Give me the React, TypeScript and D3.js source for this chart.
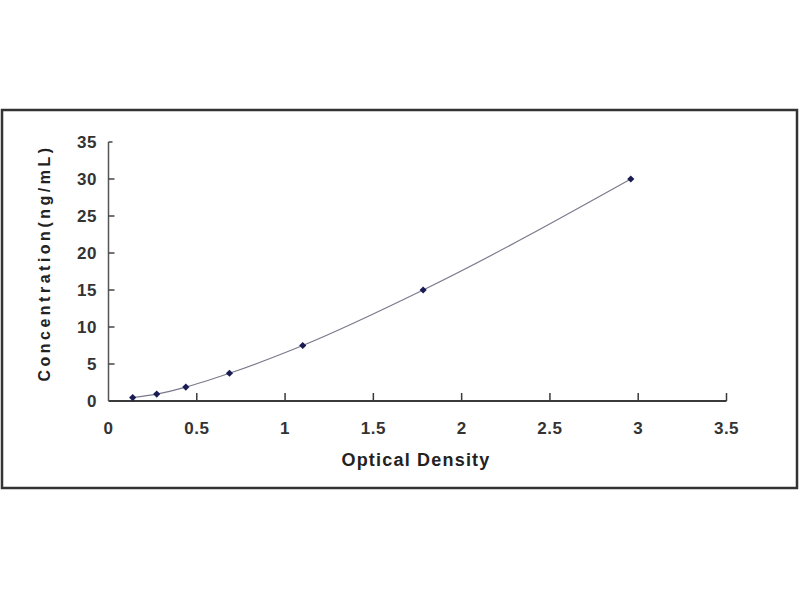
import { scaleLinear, line, curveMonotoneX, symbol, symbolSquare } from "d3";

const odValues = [0.137, 0.273, 0.438, 0.685, 1.1, 1.782, 2.958];
const concValues = [0.47, 0.94, 1.88, 3.75, 7.5, 15, 30];
const xTicks = [0, 0.5, 1, 1.5, 2, 2.5, 3, 3.5];
const yTicks = [0, 5, 10, 15, 20, 25, 30, 35];

const W = 800;
const H = 600;
const font = "'Liberation Sans', Arial, sans-serif";

export default function App() {
  const x = scaleLinear().domain([0, 3.5]).range([108.5, 726.5]);
  const y = scaleLinear().domain([0, 35]).range([401, 142]);
  const pts = odValues.map((od, i) => ({ od, c: concValues[i] }));
  const path = line<{ od: number; c: number }>()
    .x((d) => x(d.od))
    .y((d) => y(d.c))
    .curve(curveMonotoneX)(pts);
  // small rotated square, like the diamond markers of the original
  const marker = symbol().type(symbolSquare).size(26)();

  return (
    <svg width={W} height={H} style={{ position: "absolute", left: 0, top: 0, background: "#fff" }}>
      <rect x={2} y={110} width={795} height={378} fill="#fff" stroke="#333" strokeWidth={2.5} />

      {/* axes */}
      <line x1={x(0)} x2={x(3.5)} y1={y(0)} y2={y(0)} stroke="#3a3a3a" strokeWidth={2} />
      <line x1={x(0)} x2={x(0)} y1={y(0)} y2={y(35)} stroke="#555" strokeWidth={1.5} />

      {xTicks.slice(1).map((t) => (
        <line key={t} x1={x(t)} x2={x(t)} y1={y(0)} y2={y(0) - 8} stroke="#3a3a3a" strokeWidth={1.5} />
      ))}
      {yTicks.slice(1).map((t) => (
        <line key={t} x1={x(0)} x2={x(0) + (t === 35 ? 4 : 6)} y1={y(t)} y2={y(t)} stroke="#444" strokeWidth={1.5} />
      ))}

      {xTicks.map((t) => (
        <text key={t} x={x(t)} y={434} textAnchor="middle" fontFamily={font} fontWeight="bold" fontSize={17} fill="#333" letterSpacing={0.5}>
          {t}
        </text>
      ))}
      {yTicks.map((t) => (
        <text key={t} x={97} y={y(t) + 6} textAnchor="end" fontFamily={font} fontWeight="bold" fontSize={17} fill="#333" letterSpacing={0.5}>
          {t}
        </text>
      ))}

      <text x={416} y={466} textAnchor="middle" fontFamily={font} fontWeight="bold" fontSize={18} fill="#222" letterSpacing={1.2}>
        Optical Density
      </text>
      <text
        transform={`translate(50, 263) rotate(-90)`}
        textAnchor="middle"
        fontFamily={font}
        fontWeight="bold"
        fontSize={16}
        fill="#222"
        letterSpacing={3.5}
      >
        Concentration(ng/mL)
      </text>

      <path d={path ?? ""} fill="none" stroke="#7a7a8c" strokeWidth={1.2} />
      {pts.map((d) => (
        <path key={d.od} d={marker ?? ""} transform={`translate(${x(d.od)}, ${y(d.c)}) rotate(45)`} fill="#1c1c55" />
      ))}
    </svg>
  );
}
